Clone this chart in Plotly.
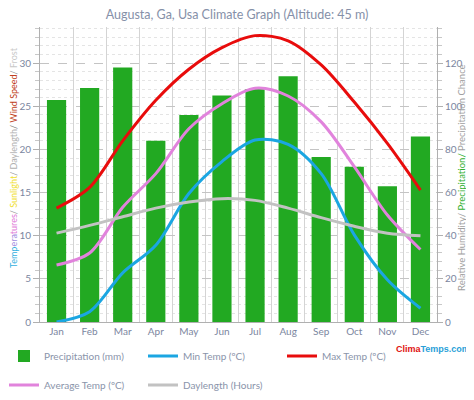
import plotly.graph_objects as go

months = ["Jan", "Feb", "Mar", "Apr", "May", "Jun", "Jul", "Aug", "Sep", "Oct", "Nov", "Dec"]
precip_mm = [103, 108.5, 118, 84, 96, 105, 108, 114, 76.5, 72, 63, 86]
min_temp = [0.0, 1.2, 5.7, 8.9, 14.9, 18.6, 21.1, 20.6, 17.2, 10.1, 4.9, 1.6]
max_temp = [13.2, 15.6, 21.0, 25.7, 29.3, 31.8, 33.2, 32.6, 29.8, 25.5, 20.7, 15.3]
avg_temp = [6.6, 8.0, 13.3, 17.2, 22.4, 25.3, 27.1, 26.2, 23.2, 18.0, 12.4, 8.4]
daylength = [10.3, 11.2, 12.2, 13.2, 13.9, 14.3, 14.1, 13.2, 12.1, 11.1, 10.3, 10.0]

FONT = "Lato"
TICK_COLOR = "#7b86a0"

fig = go.Figure()
fig.add_trace(go.Bar(x=months, y=precip_mm, name="Precipitation (mm)", marker_color="#22a922",
                     marker_line_width=0, yaxis="y", legend="legend"))
fig.add_trace(go.Scatter(x=months, y=min_temp, name="Min Temp (\u00baC)", mode="lines", yaxis="y2",
                         line=dict(color="#1ba6e2", width=3, shape="spline", smoothing=0.9), legend="legend"))
fig.add_trace(go.Scatter(x=months, y=max_temp, name="Max Temp (\u00baC)", mode="lines", yaxis="y2",
                         line=dict(color="#e80c0c", width=3, shape="spline", smoothing=0.9), legend="legend"))
fig.add_trace(go.Scatter(x=months, y=avg_temp, name="Average Temp (\u00baC)", mode="lines", yaxis="y2",
                         line=dict(color="#e183dc", width=3, shape="spline", smoothing=0.9), legend="legend2"))
fig.add_trace(go.Scatter(x=months, y=daylength, name="Daylength (Hours)", mode="lines", yaxis="y2",
                         line=dict(color="#c2c2c2", width=3, shape="spline", smoothing=0.9), legend="legend2"))

# The page body has an 8px default margin, so the figure is sized to fit the window without scrolling.
OFF = 8
W, H = 474 - OFF, 400 - 2 * OFF
# plot area in window pixels: x 40..437, y 27..322
L, R, T, B = 40 - OFF, (474 - OFF) - (437 - OFF), 27 - OFF, H - (322 - OFF)
pw, ph = W - L - R, H - T - B

def px_x(px):
    return (px - OFF - L) / pw

def px_y(py):
    return (H - B - (py - OFF)) / ph

legend_common = dict(orientation="h", xanchor="left", yanchor="middle",
                     entrywidth=94, entrywidthmode="pixels", font=dict(family=FONT, size=10, color="#8a94aa"),
                     bgcolor="rgba(0,0,0,0)", traceorder="normal")

fig.update_layout(
    width=W, height=H,
    margin=dict(l=L, r=R, t=T, b=B, autoexpand=False),
    paper_bgcolor="white", plot_bgcolor="white",
    font=dict(family=FONT, size=10, color=TICK_COLOR),
    bargap=0.42,
    title=dict(text="Augusta, Ga, Usa Climate Graph (Altitude: 45 m)", x=(237 - OFF) / W, xanchor="center",
               y=1 - (15 - OFF) / H, yanchor="middle", font=dict(family=FONT, size=12.5, color="#8590a8")),
    xaxis=dict(type="category", tickson="boundaries", showgrid=True, gridcolor="#d4d4d4", gridwidth=1,
               showline=True, linecolor="#b0b0b0", ticks="outside", ticklen=6, tickcolor="rgba(0,0,0,0)",
               tickfont=dict(size=10, color=TICK_COLOR)),
    yaxis=dict(range=[0, 136.8], dtick=20, side="right", showgrid=True, gridcolor="#c4c4c4", griddash="dash",
               showline=True, linecolor="#b0b0b0", ticks="outside", ticklen=5, tickcolor="#b0b0b0",
               zeroline=False, tickfont=dict(size=10, color=TICK_COLOR),
               minor=dict(dtick=4, showgrid=True, gridcolor="#e4e4e4", griddash="dot",
                          ticks="outside", ticklen=4, tickcolor="#c8c8c8")),
    yaxis2=dict(range=[0, 34.2], dtick=5, overlaying="y", side="left", showgrid=False,
                showline=True, linecolor="#b0b0b0", ticks="outside", ticklen=6, tickcolor="#b0b0b0",
                zeroline=False, tickfont=dict(size=10, color=TICK_COLOR),
                minor=dict(dtick=1, ticks="outside", ticklen=4, tickcolor="#c8c8c8")),
    legend=dict(x=px_x(4), y=px_y(356), **legend_common),
    legend2=dict(x=px_x(4), y=px_y(385), **legend_common),
    showlegend=True,
)

left_title = ('<span style="color:#33b0e0">Temp</span><span style="color:#a38ee0">era</span>'
              '<span style="color:#e07ad8">tures</span><span style="color:#999">/ </span>'
              '<span style="color:#f0e030">Sunlight</span><span style="color:#999">/ </span>'
              '<span style="color:#b0b0b0">Daylength</span><span style="color:#777">/ </span>'
              '<span style="color:#c04020">Wind Speed</span><span style="color:#999">/ </span>'
              '<span style="color:#c8c8c8">Frost</span>')
right_title = ('<span style="color:#a0a0a0">Relative Humidity/ </span>'
               '<span style="color:#30b030">Precipitation/ </span>'
               '<span style="color:#a0a0a0">Precipitation Chance</span>')

fig.add_annotation(text=left_title, textangle=-90, xref="paper", yref="paper",
                   x=px_x(13), y=px_y(158), xanchor="center", yanchor="middle",
                   showarrow=False, font=dict(family=FONT, size=9))
fig.add_annotation(text=right_title, textangle=-90, xref="paper", yref="paper",
                   x=px_x(461), y=px_y(177), xanchor="center", yanchor="middle",
                   showarrow=False, font=dict(family=FONT, size=9.5))
fig.add_annotation(text='<b><span style="color:#e01010">Clima</span><span style="color:#2a9fd8">Temps.com</span></b>',
                   xref="paper", yref="paper", x=px_x(394), y=px_y(349), xanchor="left", yanchor="middle",
                   showarrow=False, font=dict(family="Liberation Sans", size=9))

fig.write_html("out.html")
